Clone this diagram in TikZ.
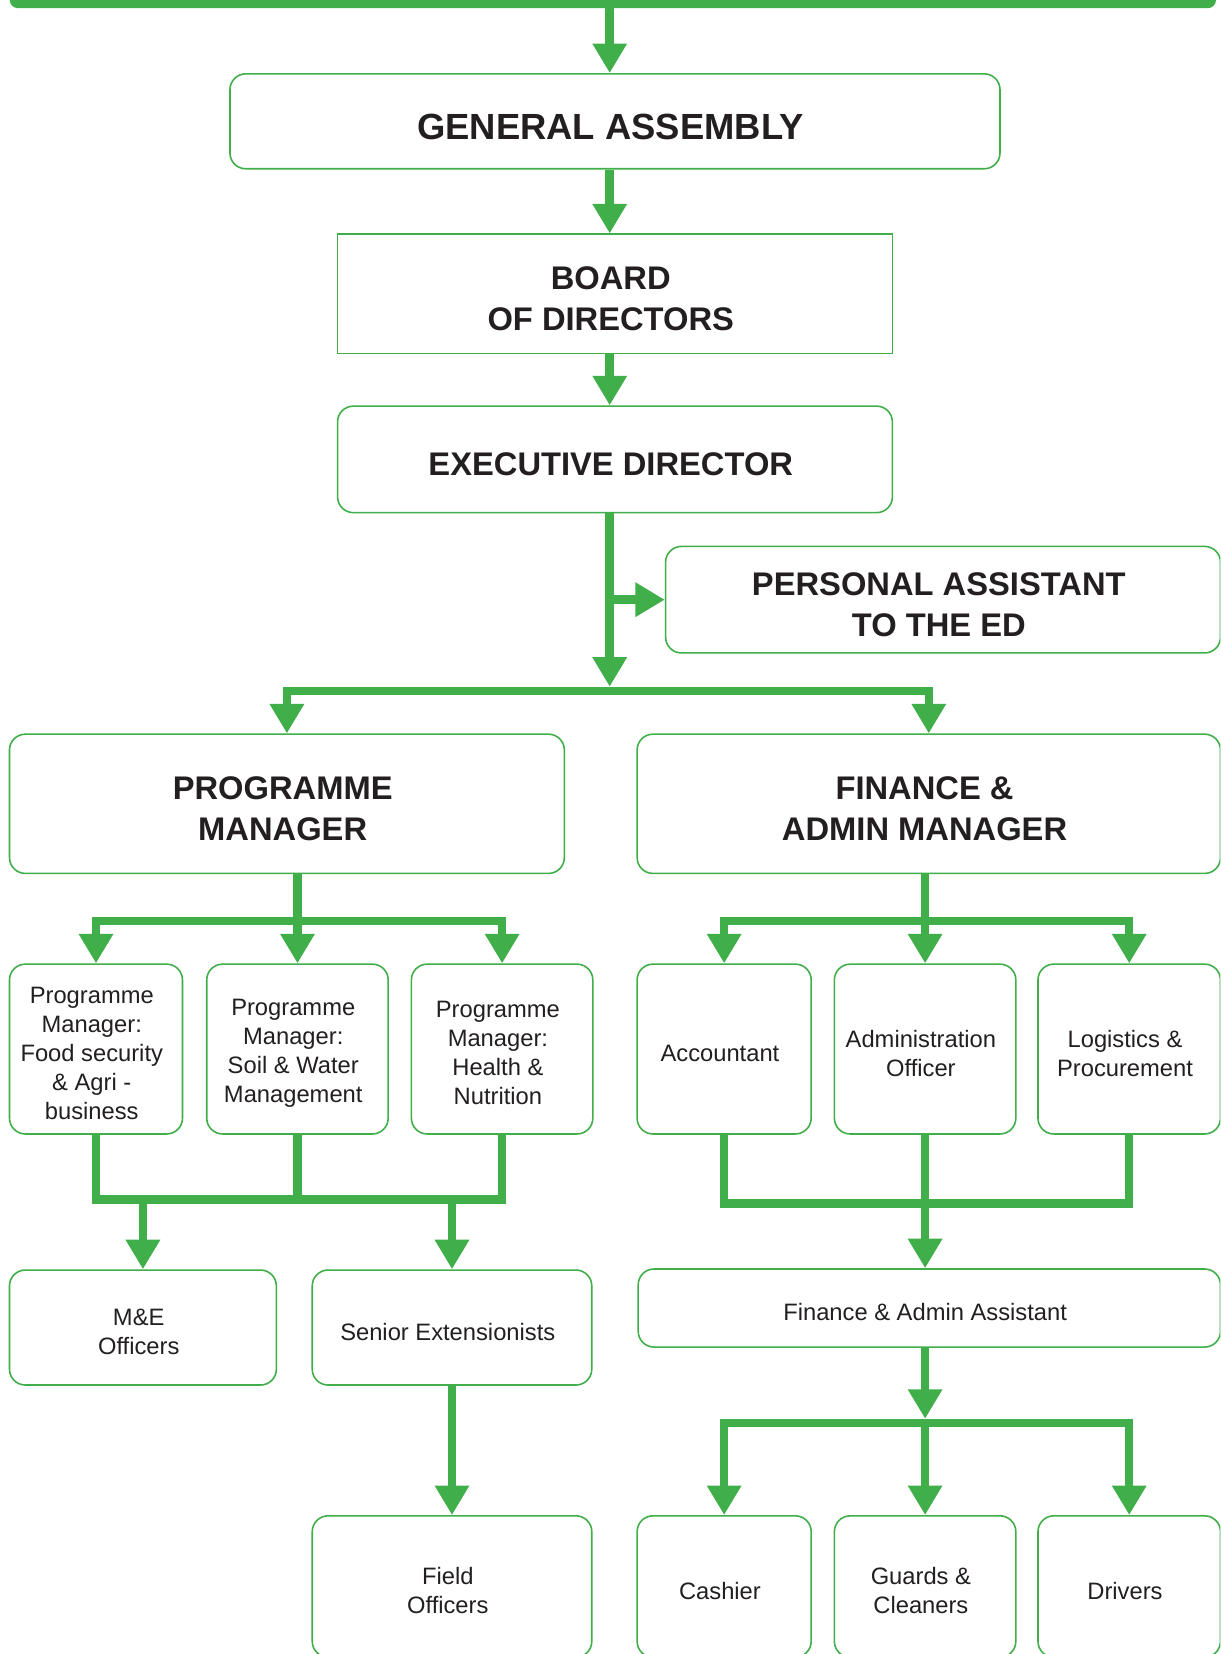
\documentclass[tikz,border=0pt]{standalone}
\usepackage{fontspec}
\setmainfont{Liberation Sans}
\usetikzlibrary{arrows.meta}
\definecolor{leaf}{RGB}{64,174,73}
\definecolor{ink}{RGB}{35,31,32}

\begin{document}
\begin{tikzpicture}[x=1pt, y=-1pt,
        main/.style = {draw=leaf, line width=1.5pt, rounded corners=15pt, fill=white, inner sep=0pt},
        word/.style = {text=ink, align=center, inner sep=0pt, font=\fontsize{22.5}{27.5}\selectfont, xshift=-4pt, yshift=-4pt},
        bold/.style = {word, font=\fontsize{31}{39}\selectfont\bfseries, yshift=-1pt},
        conn/.style = {draw=leaf, line width=8pt, -{Triangle[width=31pt, length=28pt]}},
        link/.style = {draw=leaf, line width=8pt}]
        \useasboundingbox (0,0) rectangle (1157,1568);
        \clip (0,0) rectangle (1157,1568);

        \node[main, fill=leaf, minimum width=1142pt, minimum height=30pt, rounded corners=7pt] (top) at (581,-8) {};
        \node[main, minimum width=730pt, minimum height=90pt, label={[bold, font=\fontsize{34.5}{40}\selectfont\bfseries]center:{GENERAL ASSEMBLY}}] (ga) at (583,115) {};
        \node[main, rounded corners=0pt, minimum width=526pt, minimum height=113pt, label={[bold]center:{BOARD\\OF DIRECTORS}}] (board) at (583,278.5) {};
        \node[main, minimum width=526pt, minimum height=101pt, label={[bold]center:{EXECUTIVE DIRECTOR}}] (ed) at (583,435.5) {};
        \node[main, minimum width=526pt, minimum height=101pt, label={[bold]center:{PERSONAL ASSISTANT\\TO THE ED}}] (pa) at (894,568.5) {};
        \node[main, minimum width=526pt, minimum height=132pt, label={[bold]center:{PROGRAMME\\MANAGER}}] (pm) at (272,762) {};
        \node[main, minimum width=553pt, minimum height=132pt, label={[bold]center:{FINANCE \&\\ADMIN MANAGER}}] (fam) at (880.5,762) {};

        \node[main, minimum width=164pt, minimum height=161pt, label={[word]center:{Programme\\Manager:\\Food security\\\& Agri -\\business}}] (pm1) at (91,994.5) {};
        \node[main, minimum width=172pt, minimum height=161pt, label={[word]center:{Programme\\Manager:\\Soil \& Water\\Management}}] (pm2) at (282,994.5) {};
        \node[main, minimum width=172pt, minimum height=161pt, label={[word]center:{Programme\\Manager:\\Health \&\\Nutrition}}] (pm3) at (476,994.5) {};
        \node[main, minimum width=165pt, minimum height=161pt, label={[word]center:{Accountant}}] (acc) at (686.5,994.5) {};
        \node[main, minimum width=172pt, minimum height=161pt, label={[word]center:{Administration\\Officer}}] (adm) at (877,994.5) {};
        \node[main, minimum width=173pt, minimum height=161pt, label={[word]center:{Logistics \&\\Procurement}}] (log) at (1070.5,994.5) {};

        \node[main, minimum width=253pt, minimum height=109pt, label={[word]center:{M\&E\\Officers}}] (me) at (135.5,1258.5) {};
        \node[main, minimum width=265pt, minimum height=109pt, label={[word]center:{Senior Extensionists}}] (senext) at (428.5,1258.5) {};
        \node[main, minimum width=552pt, minimum height=74pt, label={[word]center:{Finance \& Admin Assistant}}] (faa) at (881,1240) {};

        \node[main, minimum width=265pt, minimum height=134pt, label={[word]center:{Field\\Officers}}] (field) at (428.5,1504) {};
        \node[main, minimum width=165pt, minimum height=134pt, label={[word]center:{Cashier}}] (cashier) at (686.5,1504) {};
        \node[main, minimum width=172pt, minimum height=134pt, label={[word]center:{Guards \&\\Cleaners}}] (guards) at (877,1504) {};
        \node[main, minimum width=173pt, minimum height=134pt, label={[word]center:{Drivers}}] (drivers) at (1070.5,1504) {};

        \coordinate (spine) at (578,0);
        \coordinate (splittip) at (578,651);
        \coordinate (split) at (578,655);
        \coordinate (pmbar) at (0,873);
        \coordinate (pmjoin) at (0,1137);
        \coordinate (finjoin) at (0,1141);
        \coordinate (faatip) at (0,1345);
        \coordinate (faabar) at (0,1349);

        \draw[conn] (top.south -| spine) -- (ga.north -| spine);
        \draw[conn] (ga.south -| spine) -- (board.north -| spine);
        \draw[conn] (board.south -| spine) -- (ed.north -| spine);
        \draw[conn] (ed.south -| spine) -- (splittip);
        \draw[conn] (spine |- pa.west) -- (pa.west);
        \draw[conn] (split) -| (pm.north);
        \draw[conn] (split) -| (fam.north);

        \draw[conn] (pm.south -| pm2) -- (pm2.north);
        \draw[conn] (pm2 |- pmbar) -| (pm1.north);
        \draw[conn] (pm2 |- pmbar) -| (pm3.north);

        \draw[conn] (fam.south -| adm) -- (adm.north);
        \draw[conn] (adm |- pmbar) -| (acc.north);
        \draw[conn] (adm |- pmbar) -| (log.north);

        \draw[link] (pm1.south) |- (pm3 |- pmjoin) -- (pm3.south);
        \draw[link] (pm2.south) -- (pm2 |- pmjoin);
        \draw[conn] (me |- pmjoin) -- (me.north);
        \draw[conn] (senext |- pmjoin) -- (senext.north);
        \draw[conn] (senext.south) -- (field.north);

        \draw[link] (acc.south) |- (log |- finjoin) -- (log.south);
        \draw[link] (adm.south) -- (adm |- finjoin);
        \draw[conn] (adm |- finjoin) -- (faa.north -| adm);

        \draw[conn] (faa.south -| adm) -- (adm |- faatip);
        \draw[conn] (guards |- faabar) -| (cashier.north);
        \draw[conn] (guards |- faabar) -| (drivers.north);
        \draw[conn] (guards |- faabar) -- (guards.north);
\end{tikzpicture}
\end{document}
